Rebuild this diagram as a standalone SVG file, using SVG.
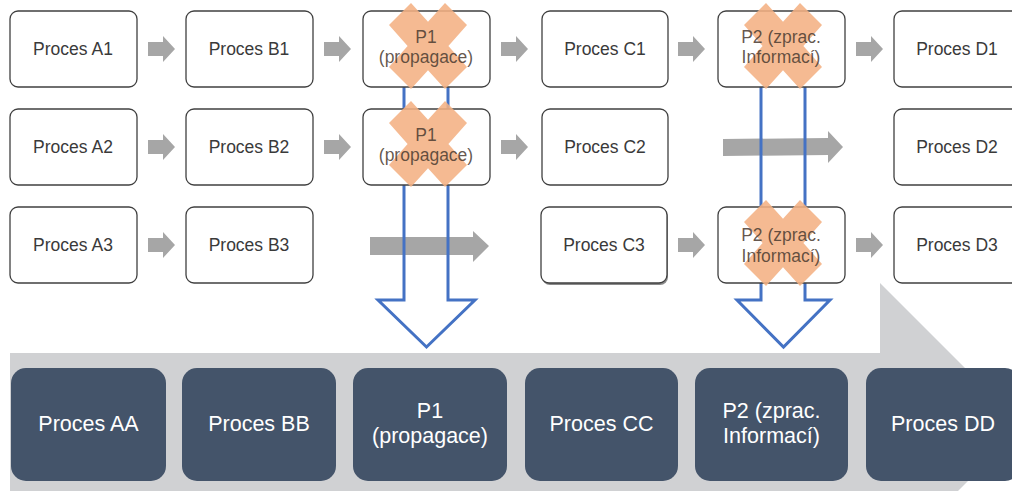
<svg xmlns="http://www.w3.org/2000/svg" width="1012" height="491" viewBox="0 0 1012 491">
<style>
.box{fill:#fff;stroke:#404040;stroke-width:1.3}
.t{font-family:"Liberation Sans",Arial,sans-serif;font-size:17.5px;fill:#3a3a3a;text-anchor:middle}
.tx{font-family:"Liberation Sans",Arial,sans-serif;font-size:17.5px;fill:#4a3a30;fill-opacity:0.85;text-anchor:middle}
.dk{fill:#44546A}
.dt{font-family:"Liberation Sans",Arial,sans-serif;font-size:21.5px;fill:#fff;text-anchor:middle}
.ga{fill:#A6A6A6}
.x{fill:#F4B183;opacity:0.88}
.blue{fill:none;stroke:#4472C4;stroke-width:3;stroke-linejoin:miter}
</style>
<defs>
<polygon id="xm" points="-39,-21 -17,-43 0,-24.3 17,-43 39,-21 20.4,0 39,21 17,43 0,24.3 -17,43 -39,21 -20.4,0"/>
<polygon id="sa" points="0,-7 15,-7 15,-13 27,0 15,13 15,7 0,7"/>
</defs>
<rect width="1012" height="491" fill="#fff"/>
<g id="timeline">
<polygon points="10,353 880,353 880,283 1023,426 880,569 880,500 10,500" fill="#D0D1D3"/>
</g>
<g id="connectors">
<use href="#sa" x="148" y="49" class="ga"/>
<use href="#sa" x="324" y="49" class="ga"/>
<use href="#sa" x="501" y="49" class="ga"/>
<use href="#sa" x="678" y="49" class="ga"/>
<use href="#sa" x="856" y="49" class="ga"/>
<use href="#sa" x="148" y="147" class="ga"/>
<use href="#sa" x="324" y="147" class="ga"/>
<use href="#sa" x="501" y="147" class="ga"/>
<polygon class="ga" points="723,139 828,138 828,131 843,147 828,163 828,155 723,156"/>
<use href="#sa" x="148" y="245" class="ga"/>
<polygon class="ga" points="370,237 473,237 473,231 489,246 473,262 473,255 370,255"/>
<use href="#sa" x="678" y="245" class="ga"/>
<use href="#sa" x="856" y="245" class="ga"/>
<path class="blue" d="M404,60 V300 H378 L426.5,347 L475,300 H448 V60"/>
<path class="blue" d="M761,60 V300 H737 L783.5,347 L830,300 H805 V60"/>
</g>
<g id="A1"><rect class="box" x="10" y="11" width="127" height="76" rx="8"/><text class="t" x="73" y="55">Proces A1</text></g>
<g id="B1"><rect class="box" x="186" y="11" width="127" height="76" rx="8"/><text class="t" x="249" y="55">Proces B1</text></g>
<g id="P1a"><rect class="box" x="363" y="11" width="127" height="76" rx="8"/><use href="#xm" x="428" y="46" class="x"/><text class="tx" x="426" y="43">P1</text><text class="tx" x="426" y="63">(propagace)</text></g>
<g id="C1"><rect class="box" x="542" y="11" width="126" height="76" rx="8"/><text class="t" x="605" y="55">Proces C1</text></g>
<g id="P2a"><rect class="box" x="718" y="11" width="127" height="76" rx="8"/><use href="#xm" x="783" y="46" class="x"/><text class="tx" x="781" y="43">P2 (zprac.</text><text class="tx" x="781" y="63">Informací)</text></g>
<g id="D1"><rect class="box" x="894" y="11" width="127" height="76" rx="8"/><text class="t" x="957" y="55">Proces D1</text></g>
<g id="A2"><rect class="box" x="10" y="109" width="127" height="76" rx="8"/><text class="t" x="73" y="153">Proces A2</text></g>
<g id="B2"><rect class="box" x="186" y="109" width="127" height="76" rx="8"/><text class="t" x="249" y="153">Proces B2</text></g>
<g id="P1b"><rect class="box" x="363" y="109" width="127" height="76" rx="8"/><use href="#xm" x="428" y="144" class="x"/><text class="tx" x="426" y="141">P1</text><text class="tx" x="426" y="161">(propagace)</text></g>
<g id="C2"><rect class="box" x="542" y="109" width="126" height="76" rx="8"/><text class="t" x="605" y="153">Proces C2</text></g>
<g id="D2"><rect class="box" x="894" y="109" width="127" height="76" rx="8"/><text class="t" x="957" y="153">Proces D2</text></g>
<g id="A3"><rect class="box" x="10" y="207" width="127" height="76" rx="8"/><text class="t" x="73" y="251">Proces A3</text></g>
<g id="B3"><rect class="box" x="186" y="207" width="127" height="76" rx="8"/><text class="t" x="249" y="251">Proces B3</text></g>
<g id="C3"><rect x="542" y="209" width="126" height="76" rx="8" fill="#8a8a8a"/><rect class="box" x="541" y="207" width="126" height="76" rx="8"/><text class="t" x="604" y="251">Proces C3</text></g>
<g id="P2b"><rect class="box" x="718" y="207" width="127" height="76" rx="8"/><use href="#xm" x="783" y="243" class="x"/><text class="tx" x="781" y="241">P2 (zprac.</text><text class="tx" x="781" y="262">Informací)</text></g>
<g id="D3"><rect class="box" x="894" y="207" width="127" height="76" rx="8"/><text class="t" x="957" y="251">Proces D3</text></g>
<g id="AA"><rect class="dk" x="11" y="368" width="155" height="113" rx="15"/><text class="dt" x="88.5" y="431">Proces AA</text></g>
<g id="BB"><rect class="dk" x="182" y="368" width="154" height="113" rx="15"/><text class="dt" x="259" y="431">Proces BB</text></g>
<g id="P1c"><rect class="dk" x="353" y="368" width="154" height="113" rx="15"/><text class="dt" x="430" y="418">P1</text><text class="dt" x="430" y="443">(propagace)</text></g>
<g id="CC"><rect class="dk" x="525" y="368" width="153" height="113" rx="15"/><text class="dt" x="601.5" y="431">Proces CC</text></g>
<g id="P2c"><rect class="dk" x="695" y="368" width="153" height="113" rx="15"/><text class="dt" x="771.5" y="418">P2 (zprac.</text><text class="dt" x="771.5" y="443">Informací)</text></g>
<g id="DD"><rect class="dk" x="866" y="368" width="154" height="113" rx="15"/><text class="dt" x="943" y="431">Proces DD</text></g>
</svg>
